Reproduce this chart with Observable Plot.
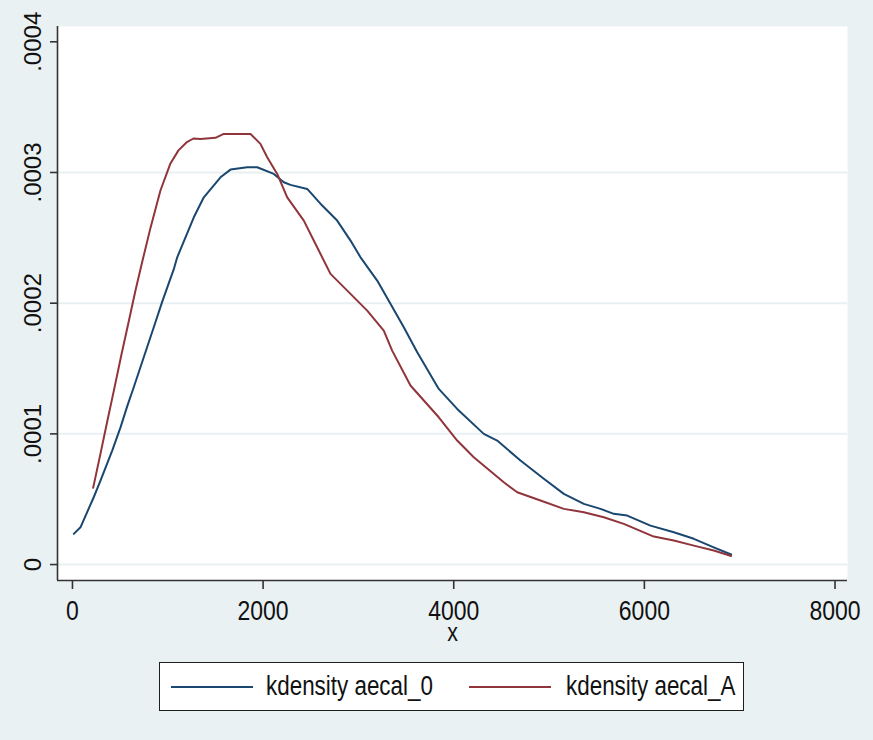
<!DOCTYPE html>
<html>
<head>
<meta charset="utf-8">
<script src="https://cdn.jsdelivr.net/npm/d3@7"></script>
<script src="https://cdn.jsdelivr.net/npm/@observablehq/plot@0.6"></script>
<style>
  html, body { margin: 0; padding: 0; background: #eaf1f3; }
  #wrap { position: relative; width: 873px; height: 740px; background: #eaf1f3; overflow: hidden; }
  #chart svg { display: block; }
  .legend {
    position: absolute; left: 159px; top: 662px; width: 583px; height: 47px;
    background: #ffffff; border: 1.5px solid #1e1e1e;
    font-family: "Liberation Sans", Arial, sans-serif;
    font-size: 27px; color: #111;
  }
  .legend .swatch { position: absolute; top: 23px; width: 82px; height: 0; border-top: 2px solid; }
  .legend .label {
    position: absolute; top: 0; height: 47px; line-height: 47px; white-space: nowrap;
    transform: scaleX(0.83); transform-origin: left center;
  }
</style>
</head>
<body>
<div id="wrap">
  <div id="chart"></div>
  <div class="legend" id="legend"></div>
</div>
<script>
// Kernel density estimate of aecal_0
const aecal0X = [14, 84, 223, 294, 417, 504, 574, 643, 748, 853, 941, 1063, 1099, 1273, 1378, 1553, 1658, 1833, 1938,
  2112, 2217, 2287, 2463, 2620, 2777, 2917, 3022, 3197, 3336, 3476, 3617, 3843, 4036, 4315, 4456, 4700, 4945,
  5155, 5365, 5540, 5679, 5820, 6064, 6309, 6519, 6728, 6910];
const aecal0Density = [2.35e-5, 2.85e-5, 5.15e-5, 6.43e-5, 8.72e-5, 1.050e-4, 1.210e-4, 1.357e-4, 1.586e-4, 1.816e-4,
  2.010e-4, 2.260e-4, 2.351e-4, 2.657e-4, 2.810e-4, 2.963e-4, 3.022e-4, 3.040e-4, 3.040e-4,
  2.989e-4, 2.925e-4, 2.905e-4, 2.874e-4, 2.747e-4, 2.632e-4, 2.479e-4, 2.351e-4, 2.173e-4, 1.995e-4, 1.816e-4,
  1.624e-4, 1.344e-4, 1.191e-4, 1.000e-4, 9.49e-5, 7.96e-5, 6.56e-5, 5.41e-5, 4.64e-5, 4.26e-5, 3.88e-5,
  3.75e-5, 2.98e-5, 2.47e-5, 1.97e-5, 1.32e-5, 7.7e-6];

// Kernel density estimate of aecal_A
const aecalAX = [217, 294, 367, 441, 514, 588, 661, 735, 819, 923, 1028, 1112, 1196, 1269, 1343, 1500, 1587, 1868,
  1972, 2043, 2148, 2253, 2427, 2567, 2707, 2917, 3092, 3266, 3354, 3546, 3843, 4036, 4210, 4525, 4666, 4910,
  5155, 5365, 5574, 5784, 6099, 6309, 6519, 6728, 6910];
const aecalADensity = [5.87e-5, 8.49e-5, 1.102e-4, 1.354e-4, 1.607e-4, 1.852e-4, 2.097e-4, 2.326e-4, 2.578e-4,
  2.862e-4, 3.069e-4, 3.169e-4, 3.230e-4, 3.260e-4, 3.257e-4, 3.265e-4, 3.295e-4, 3.295e-4,
  3.219e-4, 3.116e-4, 2.989e-4, 2.810e-4, 2.632e-4, 2.428e-4, 2.224e-4, 2.071e-4, 1.943e-4, 1.790e-4, 1.637e-4,
  1.370e-4, 1.127e-4, 9.49e-5, 8.21e-5, 6.30e-5, 5.53e-5, 4.90e-5, 4.26e-5, 4.00e-5, 3.62e-5, 3.11e-5,
  2.14e-5, 1.84e-5, 1.45e-5, 1.07e-5, 6.5e-6];

const seriesNames = ["kdensity aecal_0", "kdensity aecal_A"];
const seriesColors = ["#1a476f", "#90353b"];

const xTicks = [0, 2000, 4000, 6000, 8000];
const yTicks = [0, 0.0001, 0.0002, 0.0003, 0.0004];
const gridTicks = [0, 0.0001, 0.0002, 0.0003];
const xTitle = "x";

const xDomain = [-157, 8131];
const yDomain = [-0.0000122, 0.0004117];

const rows = [
  ...aecal0X.map((x, i) => ({x, density: aecal0Density[i], series: seriesNames[0]})),
  ...aecalAX.map((x, i) => ({x, density: aecalADensity[i], series: seriesNames[1]}))
];

const font = `"Liberation Sans", Arial, sans-serif`;
const yFormat = d => d === 0 ? "0" : d3.format(".4f")(d).replace(/^0/, "");

const chart = Plot.plot({
  width: 873,
  height: 650,
  marginLeft: 57,
  marginRight: 26,
  marginTop: 26,
  marginBottom: 70,
  style: {background: "transparent", fontFamily: font, fontSize: "28px", color: "#111"},
  x: {domain: xDomain},
  y: {domain: yDomain},
  color: {domain: seriesNames, range: seriesColors},
  marks: [
    Plot.frame({fill: "#ffffff", stroke: null}),
    Plot.ruleY(gridTicks, {stroke: "#e8f0f2", strokeWidth: 2}),
    Plot.line(rows, {x: "x", y: "density", z: "series", stroke: "series", strokeWidth: 2, curve: "linear"}),
    Plot.ruleX([xDomain[0]], {stroke: "#333", strokeWidth: 1.6}),
    Plot.ruleY([yDomain[0]], {stroke: "#333", strokeWidth: 1.6}),
    Plot.axisX({ticks: xTicks, tickSize: 9, tickPadding: 11, tickFormat: d => String(d), label: null,
      stroke: "#333", strokeWidth: 1.6, fontSize: 28}),
    Plot.axisY({ticks: yTicks, tickSize: 7, tickPadding: 10, tickFormat: yFormat, label: null,
      tickRotate: -90, textAnchor: "middle", lineAnchor: "bottom",
      stroke: "#333", strokeWidth: 1.6, fontSize: 24}),
    Plot.text([xTitle], {frameAnchor: "bottom", text: d => d, dy: 52, fontSize: 26, lineAnchor: "middle"})
  ]
});
document.getElementById("chart").appendChild(chart);

// Condense the horizontal texts (x tick labels and x title)
const condense = 0.82;
const svg = d3.select(chart);
svg.selectAll('g[aria-label="x-axis tick label"] text, g[aria-label="text"] text').each(function () {
  const len = this.getComputedTextLength();
  this.setAttribute("textLength", (len * condense).toFixed(1));
  this.setAttribute("lengthAdjust", "spacingAndGlyphs");
});

// Legend below the plot
const legend = document.getElementById("legend");
const swatchLeft = [11, 309];
const labelLeft = [106, 406];
seriesNames.forEach((name, i) => {
  const sw = document.createElement("span");
  sw.className = "swatch";
  sw.style.left = swatchLeft[i] + "px";
  sw.style.borderTopColor = seriesColors[i];
  const label = document.createElement("span");
  label.className = "label";
  label.style.left = labelLeft[i] + "px";
  label.textContent = name;
  legend.appendChild(sw);
  legend.appendChild(label);
});
</script>
</body>
</html>
